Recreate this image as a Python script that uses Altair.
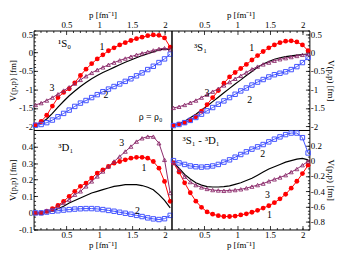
import altair as alt
import pandas as pd

# momentum mesh (fm^-1)
P = [0.03, 0.115, 0.2, 0.286, 0.371, 0.457, 0.542, 0.627, 0.713, 0.798, 0.884, 0.969,
     1.055, 1.14, 1.225, 1.311, 1.396, 1.482, 1.567, 1.652, 1.738, 1.823, 1.909, 1.994, 2.08]

# 1S0
S0_BLACK = [-1.95, -1.90, -1.80, -1.65, -1.48, -1.32, -1.17, -1.04, -0.92, -0.81, -0.71, -0.62,
            -0.54, -0.47, -0.40, -0.33, -0.26, -0.20, -0.14, -0.08, -0.03, 0.02, 0.07, 0.10, 0.08]
S0_RED = [-1.96, -1.87, -1.70, -1.45, -1.22, -1.08, -0.98, -0.82, -0.62, -0.45, -0.30, -0.17,
          -0.06, 0.05, 0.13, 0.21, 0.27, 0.33, 0.38, 0.42, 0.46, 0.48, 0.47, 0.40, 0.15]
S0_BLUE = [-1.97, -1.95, -1.90, -1.83, -1.74, -1.65, -1.56, -1.46, -1.37, -1.30, -1.22, -1.14,
           -1.06, -0.99, -0.92, -0.85, -0.78, -0.71, -0.63, -0.55, -0.46, -0.37, -0.27, -0.17, -0.04]
S0_MAG = [-1.42, -1.37, -1.30, -1.22, -1.13, -1.03, -0.94, -0.84, -0.74, -0.64, -0.55, -0.47,
          -0.40, -0.33, -0.27, -0.21, -0.16, -0.11, -0.06, -0.02, 0.02, 0.06, 0.10, 0.12, 0.09]

# 3S1
S1_BLACK = [-1.97, -1.93, -1.86, -1.77, -1.67, -1.56, -1.45, -1.33, -1.21, -1.09, -0.97, -0.85,
            -0.74, -0.62, -0.51, -0.40, -0.31, -0.24, -0.18, -0.14, -0.11, -0.09, -0.07, -0.05, -0.04]
S1_RED = [-1.98, -1.94, -1.90, -1.83, -1.74, -1.59, -1.41, -1.22, -1.03, -0.83, -0.66, -0.54,
          -0.43, -0.32, -0.20, -0.08, 0.03, 0.13, 0.21, 0.27, 0.31, 0.32, 0.29, 0.21, 0.05]
S1_BLUE = [-1.98, -1.95, -1.90, -1.84, -1.76, -1.67, -1.58, -1.49, -1.40, -1.31, -1.22, -1.13,
           -1.04, -0.96, -0.88, -0.80, -0.73, -0.66, -0.60, -0.56, -0.52, -0.46, -0.38, -0.27, -0.13]
S1_MAG = [-1.50, -1.47, -1.42, -1.36, -1.30, -1.22, -1.14, -1.06, -0.98, -0.89, -0.80, -0.71,
          -0.63, -0.54, -0.45, -0.38, -0.32, -0.27, -0.22, -0.18, -0.15, -0.12, -0.09, -0.06, -0.04]

# 3D1
D1_BLACK = [0.0, 0.0, 0.005, 0.01, 0.025, 0.04, 0.06, 0.075, 0.09, 0.105, 0.12, 0.13,
            0.14, 0.15, 0.16, 0.165, 0.17, 0.17, 0.17, 0.165, 0.155, 0.14, 0.11, 0.075, 0.03]
D1_RED = [0.0, 0.0, 0.01, 0.025, 0.045, 0.07, 0.10, 0.13, 0.16, 0.18, 0.21, 0.24,
          0.26, 0.28, 0.30, 0.31, 0.32, 0.33, 0.335, 0.335, 0.33, 0.31, 0.27, 0.19, 0.07]
D1_BLUE = [0.0, 0.0, 0.005, 0.01, 0.013, 0.017, 0.02, 0.023, 0.025, 0.026, 0.026, 0.024,
           0.02, 0.015, 0.01, 0.004, -0.002, -0.008, -0.015, -0.022, -0.03, -0.036, -0.04, -0.035, -0.015]
D1_MAG = [0.0, 0.0, 0.01, 0.02, 0.04, 0.06, 0.08, 0.11, 0.13, 0.16, 0.19, 0.22,
          0.25, 0.28, 0.31, 0.34, 0.37, 0.40, 0.43, 0.45, 0.46, 0.46, 0.42, 0.32, 0.12]

# 3S1 - 3D1
SD_BLACK = [-0.03, -0.10, -0.18, -0.24, -0.29, -0.32, -0.34, -0.345, -0.345, -0.34, -0.33, -0.31,
            -0.29, -0.26, -0.23, -0.19, -0.15, -0.11, -0.08, -0.05, -0.02, 0.0, 0.02, 0.03, 0.01]
SD_RED = [-0.03, -0.15, -0.29, -0.42, -0.53, -0.61, -0.67, -0.70, -0.72, -0.73, -0.73, -0.725,
          -0.71, -0.695, -0.675, -0.65, -0.62, -0.59, -0.55, -0.50, -0.44, -0.36, -0.27, -0.17, -0.06]
SD_BLUE = [0.0, -0.03, -0.05, -0.07, -0.08, -0.085, -0.08, -0.07, -0.05, -0.02, 0.01, 0.045,
           0.08, 0.115, 0.15, 0.18, 0.21, 0.245, 0.28, 0.31, 0.34, 0.36, 0.36, 0.30, 0.10]
SD_MAG = [-0.03, -0.12, -0.21, -0.28, -0.32, -0.35, -0.37, -0.385, -0.39, -0.395, -0.39, -0.385,
          -0.375, -0.36, -0.34, -0.32, -0.30, -0.27, -0.245, -0.22, -0.19, -0.15, -0.11, -0.06, -0.01]

# annotations (data coordinates): p, V, text, font size
TL_TEXT = [(0.47, 0.22, "¹S₀", 11), (1.04, 0.16, "1", 10), (0.28, -0.97, "3", 10),
           (1.10, -1.15, "2", 10), (1.78, -1.74, "ρ = ρ₀", 10)]
TR_TEXT = [(0.44, 0.12, "³S₁", 11), (1.22, 0.13, "1", 10), (0.54, -1.10, "3", 10),
           (1.19, -1.28, "2", 10)]
BL_TEXT = [(0.49, 0.39, "³D₁", 11), (1.34, 0.42, "3", 10), (1.68, 0.27, "1", 10),
           (1.58, 0.01, "2", 10)]
BR_TEXT = [(0.45, 0.255, "³S₁ - ³D₁", 11), (1.39, 0.08, "2", 10), (1.46, -0.45, "3", 10),
           (1.49, -0.71, "1", 10)]

XMAJ = [0.5, 1, 1.5, 2]
XMIN = [0.1, 0.2, 0.3, 0.4, 0.6, 0.7, 0.8, 0.9, 1.1, 1.2, 1.3, 1.4, 1.6, 1.7, 1.8, 1.9, 2.0]

FONT = "Liberation Serif"
RED, BLUE, MAG = "#ff0000", "#4152ff", "#8b2a6b"
W, H = 140, 101
XTITLE = "p  [fm⁻¹]"
YTITLE = "V(p,p)  [fm]"


def frange(a, b, step):
    out = []
    n = int(round((b - a) / step))
    for i in range(n + 1):
        out.append(round(a + i * step, 4))
    return out


def axis(orient, values, major, title=None):
    kw = dict(orient=orient, values=values, domain=False, grid=False,
              tickColor="black", tickWidth=0.8,
              tickSize=4 if major else 2, offset=-(4 if major else 2),
              labels=major, title=title)
    if major:
        kw.update(labelExpr="'' + datum.value", labelFont=FONT, labelFontSize=9,
                  labelColor="black", labelPadding=1, labelFlush=False,
                  labelOverlap=False, titleFont=FONT, titleFontSize=9,
                  titleFontWeight="normal", titleColor="black", titlePadding=1)
    return alt.Axis(**kw)


def panel(black, red, blue, mag, texts, ydom, ymaj, ymin, xorient, yorient):
    xs = alt.Scale(domain=[0, 2.1], nice=False, zero=False)
    ys = alt.Scale(domain=ydom, nice=False, zero=False)

    def df(vals):
        return pd.DataFrame({"p": P, "V": vals})

    def enc(axes):
        if axes == "major":
            return dict(x=alt.X("p:Q", scale=xs, axis=axis(xorient, XMAJ, True, XTITLE)),
                        y=alt.Y("V:Q", scale=ys, axis=axis(yorient, ymaj, True, YTITLE)))
        if axes == "minor":
            return dict(x=alt.X("p:Q", scale=xs, axis=axis(xorient, XMIN, False)),
                        y=alt.Y("V:Q", scale=ys, axis=axis(yorient, ymin, False)))
        return dict(x=alt.X("p:Q", scale=xs, axis=None),
                    y=alt.Y("V:Q", scale=ys, axis=None))

    layers = [
        alt.Chart(df(black)).mark_line(color="black", strokeWidth=1.2).encode(**enc("minor")),
        alt.Chart(df(red)).mark_line(color=RED, strokeWidth=1).encode(**enc("major")),
        alt.Chart(df(blue)).mark_line(color=BLUE, strokeWidth=1).encode(**enc(None)),
        alt.Chart(df(mag)).mark_line(color=MAG, strokeWidth=1).encode(**enc(None)),
        alt.Chart(df(red)).mark_point(shape="circle", filled=True, color=RED, size=24,
                                      opacity=1).encode(**enc(None)),
        alt.Chart(df(blue)).mark_point(shape="square", filled=False, color=BLUE, size=20,
                                       strokeWidth=1, opacity=1).encode(**enc(None)),
        alt.Chart(df(mag)).mark_point(shape="triangle-up", filled=False, color=MAG, size=16,
                                      strokeWidth=0.9, opacity=1).encode(**enc(None)),
    ]
    tdf = pd.DataFrame({"p": [t[0] for t in texts], "V": [t[1] for t in texts],
                        "t": [t[2] for t in texts], "s": [t[3] for t in texts]})
    layers.append(alt.Chart(tdf).mark_text(font=FONT, color="black").encode(
        text="t:N", size=alt.Size("s:Q", scale=None, legend=None), **enc(None)))
    return alt.layer(*layers).resolve_axis(x="independent", y="independent").properties(
        width=W, height=H)


tl = panel(S0_BLACK, S0_RED, S0_BLUE, S0_MAG, TL_TEXT, [-2.1, 0.6],
           [-2, -1.5, -1, -0.5, 0, 0.5], frange(-2.1, 0.6, 0.1), "top", "left")
tr = panel(S1_BLACK, S1_RED, S1_BLUE, S1_MAG, TR_TEXT, [-2.1, 0.6],
           [-2, -1.5, -1, -0.5, 0, 0.5], frange(-2.1, 0.6, 0.1), "top", "right")
bl = panel(D1_BLACK, D1_RED, D1_BLUE, D1_MAG, BL_TEXT, [-0.1, 0.5],
           [-0.1, 0, 0.1, 0.2, 0.3, 0.4], frange(-0.1, 0.5, 0.025), "bottom", "left")
br = panel(SD_BLACK, SD_RED, SD_BLUE, SD_MAG, BR_TEXT, [-0.9, 0.4],
           [-0.8, -0.6, -0.4, -0.2, 0, 0.2], frange(-0.9, 0.4, 0.05), "bottom", "right")

chart = alt.concat(tl, tr, bl, br, columns=2, spacing=0, bounds="flush").properties(
    padding={"left": 0, "top": 0, "right": 0, "bottom": 0}
).configure_view(stroke="black", strokeWidth=1)

chart.save("out.html", embed_options={"renderer": "svg", "actions": False})
